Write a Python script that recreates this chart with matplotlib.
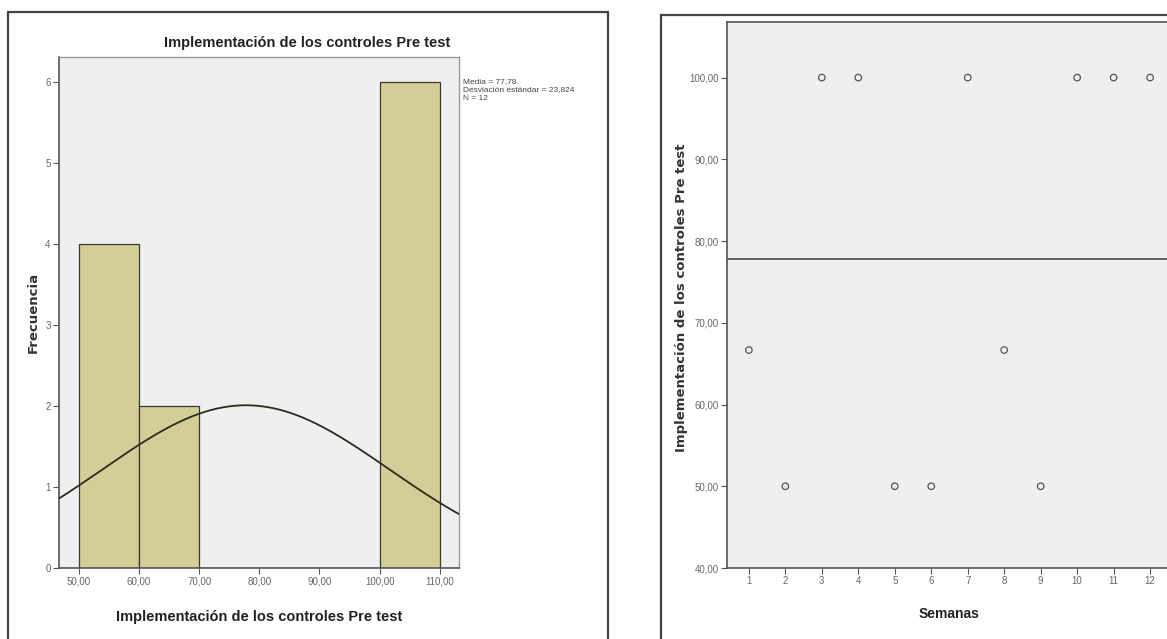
import numpy as np
import matplotlib
matplotlib.use("Agg")
import matplotlib.pyplot as plt
from matplotlib.patches import Rectangle
from matplotlib.ticker import FuncFormatter

# ---- data ----
semanas = [1, 2, 3, 4, 5, 6, 7, 8, 9, 10, 11, 12]
valores = [66.67, 50.00, 100.00, 100.00, 50.00, 50.00, 100.00, 66.67, 50.00, 100.00, 100.00, 100.00]
bin_edges = [50, 60, 70, 80, 90, 100, 110]
media = 77.78
desv = 23.824
n = 12
hist_xticks = [50, 60, 70, 80, 90, 100, 110]
hist_yticks = [0, 1, 2, 3, 4, 5, 6]
scat_yticks = [40, 50, 60, 70, 80, 90, 100]
titulo = "Implementación de los controles Pre test"

W, H = 1167, 639
fig = plt.figure(figsize=(W / 100, H / 100), dpi=100)
fig.patch.set_facecolor("white")

narrow = ["Liberation Sans Narrow", "Liberation Sans", "DejaVu Sans"]
boldf = ["Liberation Sans", "DejaVu Sans"]
wide = ["DejaVu Sans"]
bg = "#EFEFEF"
spine_c = "#555555"
tick_c = "#666666"


def fx(px):
    return px / W


def fy(py):
    return 1 - py / H


def comma(v, _):
    return f"{v:.2f}".replace(".", ",")


# panel borders
fig.patches.append(Rectangle((fx(8), fy(660)), fx(600), fy(12) - fy(660), transform=fig.transFigure,
                             fill=False, edgecolor="#444444", linewidth=1.6))
fig.patches.append(Rectangle((fx(661), fy(660)), fx(600), fy(15) - fy(660), transform=fig.transFigure,
                             fill=False, edgecolor="#444444", linewidth=1.6))

# ---------- histogram ----------
ax1 = fig.add_axes([fx(59), fy(568), fx(459 - 59), fy(57) - fy(568)])
ax1.set_facecolor(bg)
counts, edges = np.histogram(valores, bins=bin_edges)
ax1.bar(edges[:-1], counts, width=np.diff(edges), align="edge",
        color="#D3CE97", edgecolor="#3a3a2a", linewidth=0.9, zorder=2)
xs = np.linspace(40, 120, 400)
binw = bin_edges[1] - bin_edges[0]
ys = n * binw / (desv * np.sqrt(2 * np.pi)) * np.exp(-0.5 * ((xs - media) / desv) ** 2)
ax1.plot(xs, ys, color="#2b2b1e", linewidth=1.3, zorder=3)
ax1.set_xlim(46.7, 113.2)
ax1.set_ylim(0, 6.31)
ax1.set_xticks(hist_xticks)
ax1.set_yticks(hist_yticks)
ax1.xaxis.set_major_formatter(FuncFormatter(comma))
for s in ["left", "bottom"]:
    ax1.spines[s].set_color(spine_c)
    ax1.spines[s].set_linewidth(1.2)
for s in ["top", "right"]:
    ax1.spines[s].set_color("#999999")
    ax1.spines[s].set_linewidth(1.0)
ax1.tick_params(axis="both", direction="out", length=4, width=0.8, color=spine_c,
                labelsize=7, labelcolor=tick_c, pad=2)
for lab in ax1.get_xticklabels() + ax1.get_yticklabels():
    lab.set_family(narrow)
ax1.set_xlabel(titulo, fontsize=10.5, fontweight="bold", family=boldf, color="#222222")
ax1.xaxis.set_label_coords(0.5, -(617 - 568) / 511, transform=ax1.transAxes)
ax1.xaxis.label.set_va("center")
ax1.set_ylabel("Frecuencia", fontsize=9.5, fontweight="bold", family=wide, color="#333333")
ax1.yaxis.set_label_coords(-(59 - 33) / 400, 0.5)
ax1.yaxis.label.set_va("center")
fig.text(fx(307), fy(43), titulo, ha="center", va="center", fontsize=10.5, fontweight="bold",
         family=boldf, color="#222222")
info = (f"Media = {media:.2f}".replace(".", ",") + "\n"
        + f"Desviación estándar = {desv:.3f}".replace(".", ",") + "\n"
        + f"N = {n}")
fig.text(fx(463), fy(78), info, ha="left", va="top", fontsize=6, family=narrow,
         color="#444444", linespacing=1.25)

# ---------- scatter ----------
ax2 = fig.add_axes([fx(727), fy(568), fx(1172 - 727), fy(22) - fy(568)])
ax2.set_facecolor(bg)
ax2.scatter(semanas, valores, s=22, facecolors="none", edgecolors="#555555", linewidths=0.9, zorder=3)
ax2.axhline(media, color="#555555", linewidth=1.3, zorder=2)
ax2.set_xlim(0.4, 12.6)
ax2.set_ylim(40, 106.8)
ax2.set_xticks(semanas)
ax2.set_yticks(scat_yticks)
ax2.yaxis.set_major_formatter(FuncFormatter(comma))
for s in ["left", "bottom", "top"]:
    ax2.spines[s].set_color(spine_c)
    ax2.spines[s].set_linewidth(1.2)
ax2.spines["right"].set_visible(False)
ax2.tick_params(axis="both", direction="out", length=4, width=0.8, color=spine_c,
                labelsize=7, labelcolor=tick_c, pad=2)
for lab in ax2.get_xticklabels() + ax2.get_yticklabels():
    lab.set_family(narrow)
ax2.set_xlabel("Semanas", fontsize=10, fontweight="bold", family=boldf, color="#222222")
ax2.xaxis.set_label_coords(0.5, -(614 - 568) / 546)
ax2.xaxis.label.set_va("center")
ax2.set_ylabel(titulo, fontsize=9.5, fontweight="bold", family=wide, color="#333333")
ax2.yaxis.set_label_coords(-(727 - 681) / 445, (568 - 298) / 546)
ax2.yaxis.label.set_va("center")

fig.savefig("out.png", dpi=100, facecolor="white")
